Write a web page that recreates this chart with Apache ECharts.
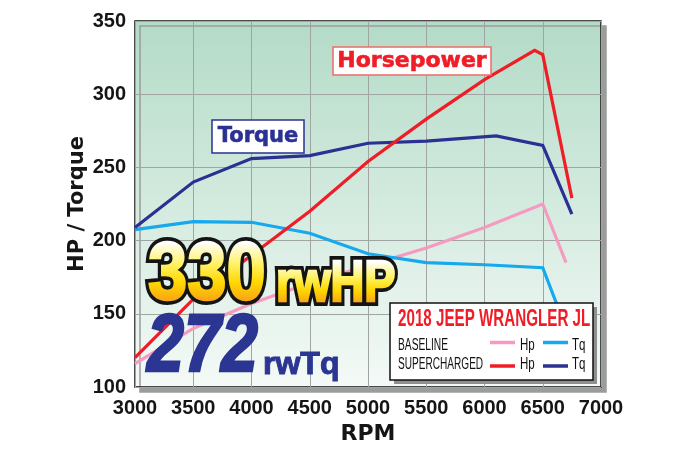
<!DOCTYPE html>
<html><head><meta charset="utf-8">
<script src="https://cdn.jsdelivr.net/npm/echarts@6/dist/echarts.min.js"></script>
<style>html,body{margin:0;padding:0;background:#fff}#c{width:688px;height:459px}</style>
</head><body><div id="c"></div>
<script>
// ---- data ----
const xTicks = [3000, 3500, 4000, 4500, 5000, 5500, 6000, 6500, 7000];
const yTicks = [100, 150, 200, 250, 300, 350];

const baseHpRpm = [3000, 3500, 4000, 4500, 5000, 5500, 6000, 6500, 6700];
const baseHp    = [116, 140, 157, 171, 183, 195, 209, 225, 185];

const baseTqRpm = [3000, 3500, 4000, 4500, 5000, 5500, 6000, 6500, 6700];
const baseTq    = [207.5, 213, 212.5, 205, 191, 185, 183.5, 181.5, 140];

const scHpRpm = [3000, 3500, 4000, 4500, 5000, 5500, 6000, 6430, 6500, 6750];
const scHp    = [120, 160, 190, 220, 254, 283, 310, 330, 327, 229];

const scTqRpm = [3000, 3500, 4000, 4500, 5000, 5500, 6100, 6500, 6750];
const scTq    = [209, 240, 256, 258, 266.5, 268, 271.5, 265, 218];

const seriesNames = ['BASELINE Hp', 'BASELINE Tq', 'SUPERCHARGED Hp', 'SUPERCHARGED Tq'];
const colors = { pink: '#f59ac0', lblue: '#16a9ee', red: '#f01c26', navy: '#2b3192' };

const pairs = (xs, ys) => xs.map((x, i) => [x, ys[i]]);
const LIB = '"Liberation Sans",Arial,sans-serif';
const GEO = '"DejaVu Sans",sans-serif';

const chart = echarts.init(document.getElementById('c'), null, { renderer: 'canvas' });

const line = (name, data, color, z) => ({
  name, type: 'line', data, showSymbol: false, silent: true, z,
  lineStyle: { color, width: 3.2, join: 'miter' }
});

const goldGrad = () => new echarts.graphic.LinearGradient(0, 0, 0, 1, [
  { offset: 0, color: '#fffdf0' }, { offset: 0.3, color: '#fff36a' },
  { offset: 0.6, color: '#ffd800' }, { offset: 1, color: '#f7901e' }]);

// big "330 rwHP": outline on one layer, gradient-filled glyphs on the layer above
const bigHp = [
  { t: '330', x: 148, y: 276, size: 82, sx: 0.86 },
  { t: 'rwHP', x: 276, y: 285, size: 57, sx: 0.82 }
];
const bigHpGraphics = [];
bigHp.forEach(b => {
  bigHpGraphics.push({ type: 'text', zlevel: 1, z: 1, x: b.x, y: b.y, scaleX: b.sx,
    style: { text: b.t, font: 'bold ' + b.size + 'px ' + LIB, verticalAlign: 'middle', fill: '#141414',
      stroke: '#141414', lineWidth: 10, lineJoin: 'round' } });
  bigHpGraphics.push({ type: 'text', zlevel: 2, z: 1, x: b.x, y: b.y, scaleX: b.sx,
    style: { text: b.t, font: 'bold ' + b.size + 'px ' + LIB, verticalAlign: 'middle', fill: '#fff',
      stroke: '#fff', lineWidth: 2.5, lineJoin: 'round' } });
});
bigHpGraphics.push({ type: 'rect', zlevel: 2, z: 2, shape: { x: 138, y: 244, width: 136, height: 64 },
  style: { fill: goldGrad(), blend: 'source-atop' } });
bigHpGraphics.push({ type: 'rect', zlevel: 2, z: 2, shape: { x: 274, y: 263, width: 130, height: 45 },
  style: { fill: goldGrad(), blend: 'source-atop' } });

chart.setOption({
  animation: false,
  grid: {
    left: 135, right: 87, top: 21, bottom: 72, show: true,
    backgroundColor: new echarts.graphic.LinearGradient(0, 0, 0, 1, [
      { offset: 0, color: '#b3dbc7' }, { offset: 1, color: '#f4faf7' }
    ]),
    borderColor: '#111', borderWidth: 1.5,
    shadowColor: '#9c9c9c', shadowOffsetX: 5, shadowOffsetY: 5, shadowBlur: 0
  },
  xAxis: {
    type: 'value', min: xTicks[0], max: xTicks[xTicks.length - 1], interval: 500,
    name: 'RPM', nameLocation: 'middle', nameGap: 33,
    nameTextStyle: { fontFamily: GEO, fontWeight: 'bold', fontSize: 22, color: '#151515' },
    axisLine: { show: false }, axisTick: { show: false },
    splitLine: { show: true, lineStyle: { color: '#a0a4a2', width: 1 } },
    axisLabel: { margin: 11, fontFamily: LIB, fontWeight: 'bold', fontSize: 20, color: '#151515',
      showMinLabel: true, showMaxLabel: true, hideOverlap: false, formatter: v => String(v) }
  },
  yAxis: {
    type: 'value', min: yTicks[0], max: yTicks[yTicks.length - 1], interval: 50,
    name: 'HP / Torque', nameLocation: 'middle', nameGap: 47, nameRotate: 90, nameMoveOverlap: false,
    nameTextStyle: { fontFamily: GEO, fontWeight: 'bold', fontSize: 21, color: '#151515' },
    axisLine: { show: false }, axisTick: { show: false },
    splitLine: { show: true, lineStyle: { color: '#a0a4a2', width: 1 } },
    axisLabel: { margin: 9, fontFamily: LIB, fontWeight: 'bold', fontSize: 20, color: '#151515',
      showMinLabel: true, showMaxLabel: true, formatter: v => String(v) }
  },
  series: [
    line(seriesNames[0], pairs(baseHpRpm, baseHp), colors.pink, 2),
    line(seriesNames[1], pairs(baseTqRpm, baseTq), colors.lblue, 3),
    line(seriesNames[2], pairs(scHpRpm, scHp), colors.red, 5),
    line(seriesNames[3], pairs(scTqRpm, scTq), colors.navy, 4)
  ],
  graphic: bigHpGraphics.concat([
    // Horsepower label
    { type: 'rect', z: 100, shape: { x: 333, y: 47, width: 158, height: 28 },
      style: { fill: '#fff', stroke: '#ee6a6a', lineWidth: 1.5 } },
    { type: 'text', z: 101, x: 412, y: 61,
      style: { text: 'Horsepower', font: 'bold 22px ' + GEO, fill: colors.red, align: 'center', verticalAlign: 'middle',
        stroke: colors.red, lineWidth: 0.6 } },
    // Torque label
    { type: 'rect', z: 100, shape: { x: 212, y: 120, width: 92, height: 33 },
      style: { fill: '#fff', stroke: colors.navy, lineWidth: 1.5 } },
    { type: 'text', z: 101, x: 258, y: 137,
      style: { text: 'Torque', font: 'bold 21px ' + GEO, fill: colors.navy, align: 'center', verticalAlign: 'middle',
        stroke: colors.navy, lineWidth: 0.6 } },
    // big torque number
    { type: 'text', z: 110, x: 147, y: 349, scaleX: 0.82,
      style: { text: '272', font: 'italic bold 81px ' + LIB, verticalAlign: 'middle', fill: '#2b3592',
        stroke: '#2b3592', lineWidth: 2.5 } },
    { type: 'text', z: 110, x: 263, y: 365,
      style: { text: 'rwTq', font: 'bold 32px ' + LIB, verticalAlign: 'middle', fill: '#2b3592',
        stroke: '#2b3592', lineWidth: 1 } },
    // legend box
    { type: 'rect', z: 120, shape: { x: 394, y: 307, width: 203, height: 77 }, style: { fill: '#8f8f8f' } },
    { type: 'rect', z: 121, shape: { x: 390, y: 303, width: 203, height: 77 },
      style: { fill: '#fff', stroke: '#111', lineWidth: 1.5 } },
    { type: 'text', z: 122, x: 398, y: 320, scaleX: 0.66,
      style: { text: '2018 JEEP WRANGLER JL', font: 'bold 23px ' + LIB, fill: colors.red, verticalAlign: 'middle' } },
    { type: 'text', z: 122, x: 398, y: 345.5, scaleX: 0.64,
      style: { text: 'BASELINE', font: '16px ' + LIB, fill: '#111', verticalAlign: 'middle' } },
    { type: 'text', z: 122, x: 398, y: 364.5, scaleX: 0.63,
      style: { text: 'SUPERCHARGED', font: '16px ' + LIB, fill: '#111', verticalAlign: 'middle' } },
    { type: 'line', z: 122, shape: { x1: 490, y1: 342.5, x2: 515, y2: 342.5 }, style: { stroke: colors.pink, lineWidth: 3.5 } },
    { type: 'line', z: 122, shape: { x1: 543, y1: 342.5, x2: 568, y2: 342.5 }, style: { stroke: colors.lblue, lineWidth: 3.5 } },
    { type: 'line', z: 122, shape: { x1: 490, y1: 366, x2: 515, y2: 366 }, style: { stroke: colors.red, lineWidth: 3.5 } },
    { type: 'line', z: 122, shape: { x1: 543, y1: 366, x2: 568, y2: 366 }, style: { stroke: colors.navy, lineWidth: 3.5 } },
    { type: 'text', z: 122, x: 520, y: 345.5, scaleX: 0.72, style: { text: 'Hp', font: '16px ' + LIB, fill: '#111', verticalAlign: 'middle' } },
    { type: 'text', z: 122, x: 572, y: 345.5, scaleX: 0.72, style: { text: 'Tq', font: '16px ' + LIB, fill: '#111', verticalAlign: 'middle' } },
    { type: 'text', z: 122, x: 520, y: 364.5, scaleX: 0.72, style: { text: 'Hp', font: '16px ' + LIB, fill: '#111', verticalAlign: 'middle' } },
    { type: 'text', z: 122, x: 572, y: 364.5, scaleX: 0.72, style: { text: 'Tq', font: '16px ' + LIB, fill: '#111', verticalAlign: 'middle' } }
  ])
});
</script>
</body></html>
